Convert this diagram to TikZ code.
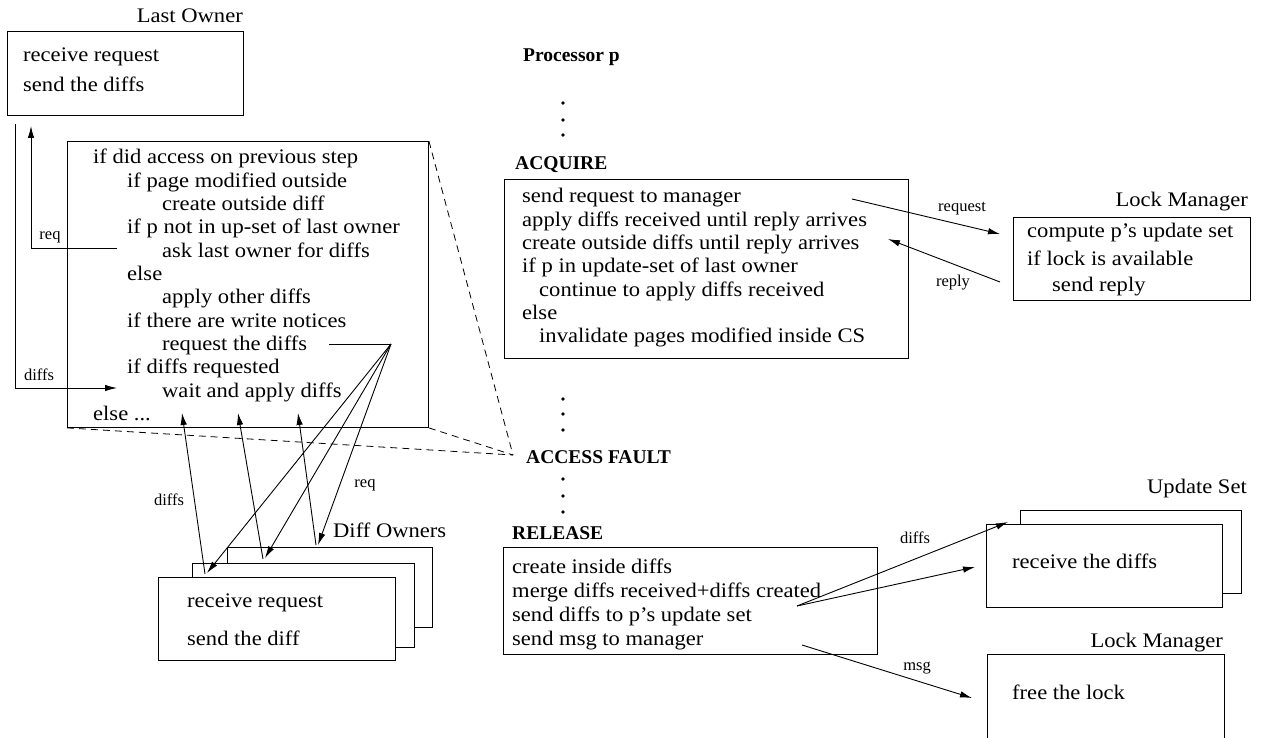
\documentclass[tikz,border=0pt]{standalone}
\usepackage{fontspec}
\setmainfont{Liberation Serif}
\newfontfamily\bodyfamily[FakeStretch=1.09]{Liberation Serif}
\usetikzlibrary{arrows.meta}
\newcommand\bodyfont{\bodyfamily\fontsize{20.7}{23}\selectfont}
\newcommand\labelfont{\fontsize{16.5}{19}\selectfont}
\newcommand\headfont{\bfseries\fontsize{19.5}{22}\selectfont}
\newcommand\elsedots{else ...}

\tikzset{
  box/.style={draw, fill=white, line width=0.9pt, inner sep=0pt, anchor=north west},
  txt/.style={font=\bodyfont, inner sep=0pt, anchor=base west},
  title/.style={font=\bodyfont, inner sep=0pt, anchor=base east},
  lbl/.style={font=\labelfont, inner sep=0pt, anchor=base},
  head/.style={font=\headfont, inner sep=0pt, anchor=base west},
  conn/.style={line width=0.9pt},
  arr/.style={conn, -{Latex[length=12pt,width=6.5pt]}},
  guide/.style={line width=0.8pt, dash pattern=on 7pt off 5pt},
  dot/.style={circle, fill, inner sep=0pt, minimum size=3.6pt},
}

\begin{document}
\begin{tikzpicture}[x=1pt,y=-1pt]
\useasboundingbox (0,0) rectangle (1262,738);

% ---------------- last owner ----------------
\node[title] (lotitle) at (243,23) {Last Owner};
\node[box, minimum width=236pt, minimum height=84pt] (lo) at (7,31) {};
\node[txt] (lo-1) at (23,62) {receive request};
\node[txt] (lo-2) at (23,92) {send the diffs};

% ---------------- access fault handler ----------------
\node[box, minimum width=361pt, minimum height=286pt] (af) at (67,141) {};
\foreach \ind/\t [count=\i from 0] in {
  93/if did access on previous step,
  127/if page modified outside,
  162/create outside diff,
  127/if p not in up-set of last owner,
  162/ask last owner for diffs,
  127/else,
  162/apply other diffs,
  127/if there are write notices,
  162/request the diffs,
  127/if diffs requested,
  162/wait and apply diffs,
  93/\elsedots}
  \node[txt] (af-\i) at (\ind,164+23.3*\i) {\t};

% ---------------- diff owners ----------------
\node[box, minimum width=205pt, minimum height=80pt] (do3) at (227,547) {};
\node[box, minimum width=222pt, minimum height=84pt] (do2) at (192,563) {};
\node[box, minimum width=237pt, minimum height=83pt] (do1) at (158,577) {};
\node[txt] (dotitle) at (333,537) {Diff Owners};
\node[txt] (do-1) at (187,607) {receive request};
\node[txt] (do-2) at (187,645) {send the diff};

% ---------------- processor p ----------------
\node[head] (proc) at (523,62) {Processor p};
\foreach \y [count=\i] in {103,120,135} \node[dot] (da-\i) at (563,\y) {};
\node[head] (acq) at (515,170) {ACQUIRE};
\node[box, minimum width=404pt, minimum height=179pt] (acqbox) at (504,179) {};
\foreach \ind/\t [count=\i from 0] in {
  522/send request to manager,
  522/apply diffs received until reply arrives,
  522/create outside diffs until reply arrives,
  522/if p in update-set of last owner,
  539/continue to apply diffs received,
  522/else,
  539/invalidate pages modified inside CS}
  \node[txt] (acq-\i) at (\ind,203+23.3*\i) {\t};

\foreach \y [count=\i] in {399,414,430} \node[dot] (db-\i) at (563,\y) {};
\node[head] (fault) at (526,463) {ACCESS FAULT};
\foreach \y [count=\i] in {479,496,512} \node[dot] (dc-\i) at (563,\y) {};

\node[head] (rel) at (512,539) {RELEASE};
\node[box, minimum width=374pt, minimum height=107pt] (relbox) at (503,547) {};
\foreach \t [count=\i from 0] in {
  create inside diffs,
  merge diffs received+diffs created,
  send diffs to p’s update set,
  send msg to manager}
  \node[txt] (rel-\i) at (512,573+24*\i) {\t};

% ---------------- lock manager (acquire) ----------------
\node[title] (lm1title) at (1248,207) {Lock Manager};
\node[box, minimum width=237pt, minimum height=83pt] (lm1) at (1013,217) {};
\node[txt] (lm1-1) at (1027,238) {compute p’s update set};
\node[txt] (lm1-2) at (1027,266) {if lock is available};
\node[txt] (lm1-3) at (1052,291) {send reply};

% ---------------- update set ----------------
\node[title] (ustitle) at (1247,493) {Update Set};
\node[box, minimum width=221pt, minimum height=83pt] (us2) at (1020,510) {};
\node[box, minimum width=236pt, minimum height=83pt] (us1) at (986,524) {};
\node[txt] (us-1) at (1012,568) {receive the diffs};

% ---------------- lock manager (release) ----------------
\node[title] (lm2title) at (1223,647) {Lock Manager};
\node[box, minimum width=237pt, minimum height=100pt] (lm2) at (987,654) {};
\node[txt] (lm2-1) at (1012,699) {free the lock};

% ---------------- message end points ----------------
\coordinate (loout)  at (15,124);
\coordinate (loin)   at (31,126);
\coordinate (reqsrc) at (117,248);
\coordinate (dfdst)  at (117,388);
\coordinate (fanin)  at (329,344);
\coordinate (fan)    at (391,344);
\coordinate (apex)   at (513,455);

\coordinate (o1) at (205,574);
\coordinate (o2) at (263,559);
\coordinate (o3) at (316,545);
\coordinate (i1) at (207,573);
\coordinate (i2) at (265,558);
\coordinate (i3) at (318,545);
\coordinate (t1) at (182,413);
\coordinate (t2) at (238,413);
\coordinate (t3) at (298,413);

\coordinate (rqsrc) at (852,199);
\coordinate (rqdst) at (1000,234);
\coordinate (rpsrc) at (1000,282);
\coordinate (rpdst) at (888,239);

\coordinate (dsrc)  at (797,606);
\coordinate (ddst1) at (1008,522);
\coordinate (ddst2) at (975,567);
\coordinate (msrc)  at (802,645);
\coordinate (mdst)  at (972,698);

% ---------------- zoom guides ----------------
\draw[guide] (af.north east) -- (apex);
\draw[guide] (af.south west) -- (apex);
\draw[guide] (af.south east) -- (apex);

% ---------------- last owner traffic ----------------
\draw[arr] (reqsrc) -| (loin);
\node[lbl] (reqlbl) at (50,240) {req};
\draw[arr] (loout) |- (dfdst);
\node[lbl] (dfslbl) at (39,381) {diffs};

% ---------------- diff owner traffic ----------------
\draw[conn] (fanin) -- (fan);
\foreach \k in {1,2,3} {
  \draw[arr] (fan) -- (i\k);
  \draw[arr] (o\k) -- (t\k);
}
\node[lbl] (dolbl1) at (169,505) {diffs};
\node[lbl] (dolbl2) at (365,487) {req};

% ---------------- lock manager traffic ----------------
\draw[arr] (rqsrc) -- (rqdst);
\node[lbl] (rqlbl) at (962,212) {request};
\draw[arr] (rpsrc) -- (rpdst);
\node[lbl] (rplbl) at (953,287) {reply};

% ---------------- release traffic ----------------
\draw[arr] (dsrc) -- (ddst1);
\draw[arr] (dsrc) -- (ddst2);
\node[lbl] (dlbl) at (915,543) {diffs};
\draw[arr] (msrc) -- (mdst);
\node[lbl] (mlbl) at (917,670) {msg};
\end{tikzpicture}
\end{document}
